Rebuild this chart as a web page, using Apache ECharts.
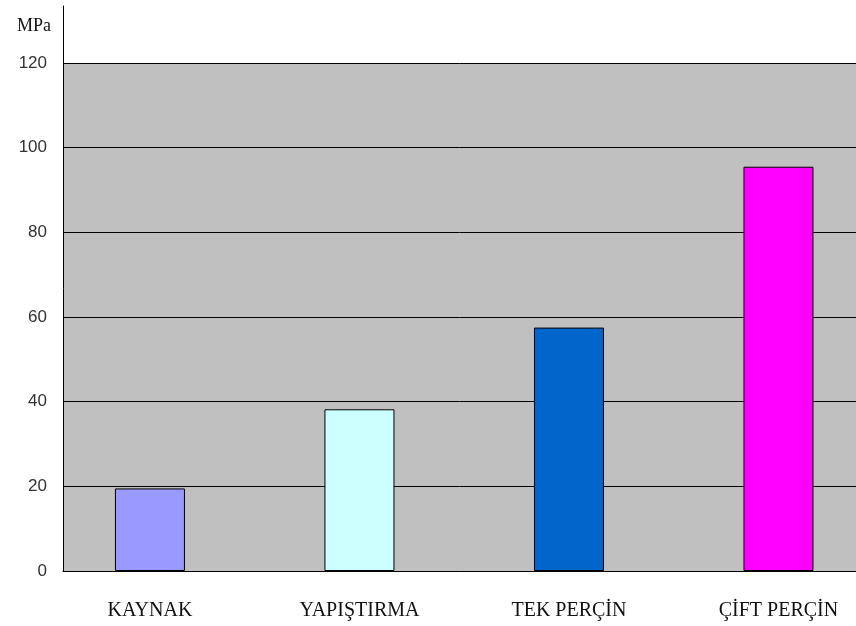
<!DOCTYPE html>
<html>
<head>
<meta charset="utf-8">
<script src="https://cdn.jsdelivr.net/npm/echarts@6/dist/echarts.min.js"></script>
<style>
html,body{margin:0;padding:0;background:#fff;}
#chart{width:856px;height:626px;}
</style>
</head>
<body>
<div id="chart"></div>
<script>
const categories = ['KAYNAK', 'YAPIŞTIRMA', 'TEK PERÇİN', 'ÇİFT PERÇİN'];
const values = [19.5, 38.2, 57.5, 95.5];
const barColors = ['#9999FF', '#CCFFFF', '#0066CC', '#FF00FF'];
const yMin = 0, yMax = 120, yStep = 20;
const unitLabel = 'MPa';

// x extent (in category-index units) so the bars sit where they do in the source
const xMin = -0.415, xMax = 3.37;
const catIdx = categories.map((c, i) => i);

const chart = echarts.init(document.getElementById('chart'), null, {renderer: 'canvas'});
const option = {
  animation: false,
  backgroundColor: '#ffffff',
  title: {
    text: unitLabel,
    left: 12, top: 12,
    textStyle: {fontFamily: 'Liberation Serif', fontSize: 18, fontWeight: 'normal', color: '#111'}
  },
  grid: [
    {left: 63, right: 0, top: 63, bottom: 55, show: true, backgroundColor: '#C0C0C0', borderWidth: 0},
    {left: 63, right: 0, top: 6, bottom: 55}
  ],
  xAxis: [
    {type: 'value', gridIndex: 0, min: xMin, max: xMax,
     axisLine: {show: true, onZero: false, lineStyle: {color: '#000', width: 1}},
     axisTick: {show: false},
     axisLabel: {show: true, customValues: catIdx, margin: 30, color: '#111',
                 fontFamily: 'Liberation Serif', fontSize: 20,
                 formatter: v => categories[Math.round(v)] || ''},
     splitLine: {show: false}},
    {type: 'category', gridIndex: 1, data: categories, show: false}
  ],
  yAxis: [
    {type: 'value', gridIndex: 0, min: yMin, max: yMax, interval: yStep,
     axisLine: {show: false},
     axisTick: {show: true, length: 5, lineStyle: {color: '#000'}},
     axisLabel: {margin: 16, color: '#333', fontFamily: 'Liberation Sans', fontSize: 17},
     splitLine: {show: true, lineStyle: {color: '#000', width: 1}}},
    {type: 'value', gridIndex: 1, min: 0, max: 1, show: true,
     axisLine: {show: true, lineStyle: {color: '#000', width: 1}},
     axisTick: {show: false}, axisLabel: {show: false}, splitLine: {show: false}}
  ],
  series: [{
    type: 'bar',
    xAxisIndex: 0, yAxisIndex: 0,
    barWidth: 70,
    data: values.map((v, i) => ({value: [catIdx[i], v], itemStyle: {color: barColors[i]}})),
    itemStyle: {borderColor: '#000', borderWidth: 1}
  }]
};
chart.setOption(option);
</script>
</body>
</html>
